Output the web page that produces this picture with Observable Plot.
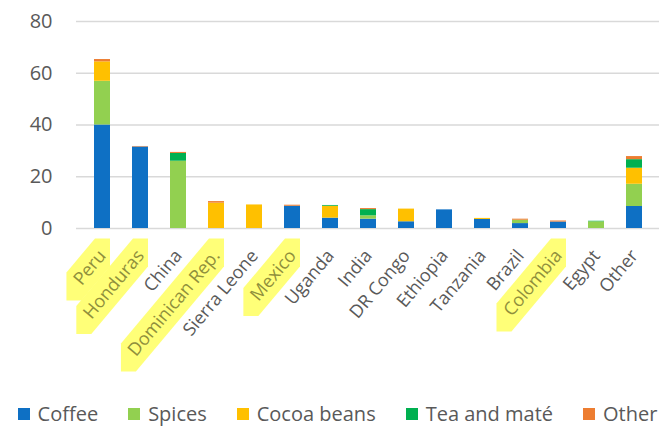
<!DOCTYPE html>
<html>
<head>
<meta charset="utf-8">
<script src="https://cdn.jsdelivr.net/npm/d3@7"></script>
<script src="https://cdn.jsdelivr.net/npm/@observablehq/plot@0.6"></script>
<style>
  html, body { margin: 0; padding: 0; background: #fff; }
  body { width: 659px; height: 427px; overflow: hidden; font-family: "Open Sans", sans-serif; }
  #legend { display: flex; justify-content: center; align-items: center; height: 27px; padding-left: 16px; box-sizing: border-box; font-size: 20px; color: #595959; }
  .item { display: flex; align-items: center; margin-right: 30px; }
  .item:last-child { margin-right: 0; }
  .sw { width: 12px; height: 12px; margin-right: 8px; }
</style>
</head>
<body>
<div id="chart"></div>
<div id="legend"></div>
<script>
const countries = ["Peru","Honduras","China","Dominican Rep.","Sierra Leone","Mexico","Uganda","India","DR Congo","Ethiopia","Tanzania","Brazil","Colombia","Egypt","Other"];
const highlighted = ["Peru","Honduras","Dominican Rep.","Mexico","Colombia"];
const seriesNames = ["Coffee","Spices","Cocoa beans","Tea and maté","Other"];
const seriesColors = ["#0E70C4","#92D050","#FFC000","#00B050","#ED7D31"];
const coffee = [40, 31.5, 0, 0, 0, 8.6, 4.0, 3.6, 2.6, 7.2, 3.5, 1.9, 2.5, 0, 8.5];
const spices = [16.9, 0, 26, 0, 0, 0, 0, 1.3, 0, 0, 0, 1.3, 0, 2.6, 8.6];
const cocoa = [7.5, 0, 0, 9.8, 9.1, 0, 4.6, 0, 4.9, 0, 0.4, 0, 0, 0, 6.2];
const tea = [0, 0, 3.0, 0, 0, 0, 0.3, 2.4, 0, 0, 0, 0, 0, 0.2, 3.3];
const other = [0.9, 0.2, 0.4, 0.6, 0, 0.4, 0, 0.4, 0, 0, 0, 0.4, 0.4, 0, 1.2];
const yTicks = [0, 20, 40, 60, 80];

const seriesValues = [coffee, spices, cocoa, tea, other];
const data = [];
countries.forEach((c, i) => {
  seriesNames.forEach((s, j) => {
    data.push({country: c, series: s, value: seriesValues[j][i]});
  });
});

const W = 659, H = 400;
const plot = Plot.plot({
  width: W,
  height: H,
  marginLeft: 76,
  marginRight: 0,
  marginTop: 21,
  marginBottom: 172,
  style: {fontFamily: "'Open Sans', sans-serif", background: "#fff"},
  x: {domain: countries, paddingInner: 0.59, paddingOuter: 0.283, label: null},
  y: {domain: [0, 80], ticks: yTicks, label: null},
  color: {domain: seriesNames, range: seriesColors},
  marks: [
    Plot.gridY(yTicks, {stroke: "#d9d9d9", strokeOpacity: 1, strokeWidth: 1.6}),
    Plot.barY(data, {x: "country", y: "value", fill: "series", order: seriesNames}),
    Plot.axisY(yTicks, {tickSize: 0, tickPadding: 24, fontSize: 20, fill: "#595959", label: null}),
    Plot.axisX({tickSize: 0, tickPadding: 24, tickRotate: -50, textAnchor: "end", lineAnchor: "middle", dx: 0, fontSize: 18, fill: "#595959", label: null})
  ]
});
document.getElementById("chart").append(plot);

// highlighter marks behind selected tick labels
const svgNS = "http://www.w3.org/2000/svg";
const hlSet = new Set(highlighted);
const xAxisGroup = plot.querySelector('g[aria-label="x-axis tick label"]');
if (xAxisGroup) {
  const bw = 15, bh = 28, ext = 5;
  xAxisGroup.querySelectorAll("text").forEach(t => {
    const label = t.textContent.trim();
    if (!hlSet.has(label)) return;
    const bb = t.getBBox();
    const m = t.getCTM();
    const tr = (x, y) => [m.a * x + m.c * y + m.e, m.b * x + m.d * y + m.f];
    const cy = bb.y + bb.height * 0.55;
    const p1 = tr(bb.x - ext, cy), p2 = tr(bb.x + bb.width, cy);
    const pts = [
      [p1[0] - bw/2, p1[1] - bh/2], [p1[0] - bw/2, p1[1] + bh/2], [p1[0] + bw/2, p1[1] + bh/2],
      [p2[0] + bw/2, p2[1] + bh/2], [p2[0] + bw/2, p2[1] - bh/2], [p2[0] - bw/2, p2[1] - bh/2]
    ];
    const path = document.createElementNS(svgNS, "path");
    path.setAttribute("d", "M" + pts.map(p => p.join(",")).join("L") + "Z");
    path.setAttribute("fill", "#ffff78");
    plot.insertBefore(path, xAxisGroup);
    t.setAttribute("fill", "#8f8f3c");
  });
}

// legend
const legend = document.getElementById("legend");
seriesNames.forEach((s, i) => {
  const it = document.createElement("div");
  it.className = "item";
  const sw = document.createElement("div");
  sw.className = "sw";
  sw.style.background = seriesColors[i];
  const tx = document.createElement("span");
  tx.textContent = s;
  it.append(sw, tx);
  legend.append(it);
});
</script>
</body>
</html>
